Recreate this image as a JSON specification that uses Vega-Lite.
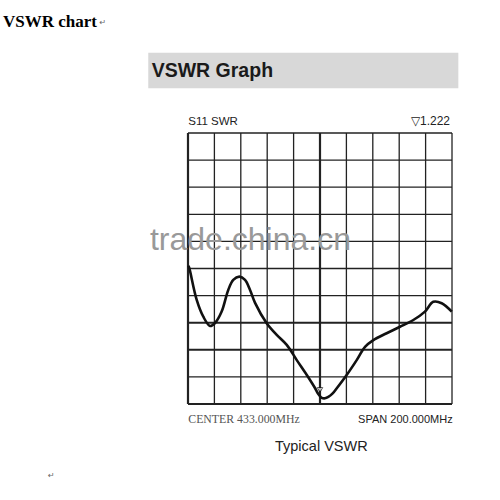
{
  "$schema": "https://vega.github.io/schema/vega-lite/v6.json",
  "width": 500,
  "height": 500,
  "padding": 0,
  "autosize": {"type": "fit", "contains": "padding"},
  "background": "white",
  "view": {"stroke": null},
  "datasets": {
    "curve": [
      {"f": 333.3, "s": 1.71},
      {"f": 334.0, "s": 1.701},
      {"f": 339.6, "s": 1.584},
      {"f": 344.6, "s": 1.522},
      {"f": 349.7, "s": 1.488},
      {"f": 353.5, "s": 1.499},
      {"f": 358.5, "s": 1.541},
      {"f": 363.5, "s": 1.621},
      {"f": 367.3, "s": 1.658},
      {"f": 371.9, "s": 1.670},
      {"f": 376.2, "s": 1.658},
      {"f": 380.0, "s": 1.621},
      {"f": 383.8, "s": 1.573},
      {"f": 392.6, "s": 1.498},
      {"f": 400.2, "s": 1.455},
      {"f": 407.8, "s": 1.418},
      {"f": 415.4, "s": 1.362},
      {"f": 423.0, "s": 1.307},
      {"f": 429.2, "s": 1.259},
      {"f": 431.7, "s": 1.237},
      {"f": 434.3, "s": 1.223},
      {"f": 436.8, "s": 1.221},
      {"f": 439.3, "s": 1.226},
      {"f": 442.6, "s": 1.239},
      {"f": 445.7, "s": 1.258},
      {"f": 453.2, "s": 1.307},
      {"f": 460.8, "s": 1.362},
      {"f": 467.1, "s": 1.411},
      {"f": 473.4, "s": 1.436},
      {"f": 483.5, "s": 1.461},
      {"f": 493.6, "s": 1.485},
      {"f": 503.7, "s": 1.510},
      {"f": 512.5, "s": 1.541},
      {"f": 518.8, "s": 1.577},
      {"f": 525.2, "s": 1.572},
      {"f": 532.8, "s": 1.541}
    ],
    "vgrid": [
      {"f": 333, "s": 1.2, "s2": 2.2, "major": true},
      {"f": 353, "s": 1.2, "s2": 2.2, "major": false},
      {"f": 373, "s": 1.2, "s2": 2.2, "major": false},
      {"f": 393, "s": 1.2, "s2": 2.2, "major": false},
      {"f": 413, "s": 1.2, "s2": 2.2, "major": false},
      {"f": 433, "s": 1.2, "s2": 2.2, "major": true},
      {"f": 453, "s": 1.2, "s2": 2.2, "major": false},
      {"f": 473, "s": 1.2, "s2": 2.2, "major": false},
      {"f": 493, "s": 1.2, "s2": 2.2, "major": false},
      {"f": 513, "s": 1.2, "s2": 2.2, "major": false},
      {"f": 533, "s": 1.2, "s2": 2.2, "major": false}
    ],
    "hgrid": [
      {"s": 1.2, "f": 333, "f2": 533, "major": true},
      {"s": 1.3, "f": 333, "f2": 533, "major": false},
      {"s": 1.4, "f": 333, "f2": 533, "major": true},
      {"s": 1.5, "f": 333, "f2": 533, "major": true},
      {"s": 1.6, "f": 333, "f2": 533, "major": false},
      {"s": 1.7, "f": 333, "f2": 533, "major": false},
      {"s": 1.8, "f": 333, "f2": 533, "major": false},
      {"s": 1.9, "f": 333, "f2": 533, "major": false},
      {"s": 2.0, "f": 333, "f2": 533, "major": false},
      {"s": 2.1, "f": 333, "f2": 533, "major": false},
      {"s": 2.2, "f": 333, "f2": 533, "major": false}
    ],
    "banner": [
      {"f": 302.9, "f2": 537.8, "s": 2.496, "s2": 2.365}
    ],
    "marker": [
      {"f": 433.0, "s": 1.252}
    ],
    "labels": [
      {"role": "doc", "f": 192.9, "s": 2.591, "text": "VSWR chart"},
      {"role": "ret", "f": 266.0, "s": 2.600, "text": "↵"},
      {"role": "ret", "f": 226.9, "s": 0.927, "text": "↵"},
      {"role": "banner", "f": 305.5, "s": 2.4055, "text": "VSWR Graph"},
      {"role": "head", "f": 333.2, "s": 2.2295, "text": "S11 SWR"},
      {"role": "headr", "f": 531.5, "s": 2.2295, "text": "▽1.222"},
      {"role": "center", "f": 333.2, "s": 1.1288, "text": "CENTER 433.000MHz"},
      {"role": "span", "f": 533.5, "s": 1.1288, "text": "SPAN 200.000MHz"},
      {"role": "caption", "f": 434.0, "s": 1.0277, "text": "Typical VSWR"},
      {"role": "wm", "f": 304.2, "s": 1.7683, "text": "trade.china.cn"}
    ]
  },
  "encoding": {
    "x": {"field": "f", "type": "quantitative", "axis": null,
          "scale": {"domain": [190.58, 569.36], "nice": false, "zero": false}},
    "y": {"field": "s", "type": "quantitative", "axis": null,
          "scale": {"domain": [0.8458, 2.6908], "nice": false, "zero": false}}
  },
  "layer": [
    {
      "data": {"name": "banner"},
      "mark": {"type": "rect", "fill": "#d8d8d8"},
      "encoding": {"x2": {"field": "f2"}, "y2": {"field": "s2"}}
    },
    {
      "data": {"name": "vgrid"},
      "mark": {"type": "rule", "stroke": "#222222"},
      "encoding": {
        "y2": {"field": "s2"},
        "strokeWidth": {"condition": {"test": "datum.major", "value": 2.2}, "value": 1.3}
      }
    },
    {
      "data": {"name": "hgrid"},
      "mark": {"type": "rule", "stroke": "#222222"},
      "encoding": {
        "x2": {"field": "f2"},
        "strokeWidth": {"condition": {"test": "datum.major", "value": 2.0}, "value": 1.3}
      }
    },
    {
      "data": {"name": "labels"},
      "transform": [{"filter": "datum.role == 'wm'"}],
      "mark": {"type": "text", "align": "left", "baseline": "alphabetic", "font": "Liberation Sans", "fontSize": 32, "color": "#999999"},
      "encoding": {"text": {"field": "text"}}
    },
    {
      "data": {"name": "curve"},
      "mark": {"type": "line", "color": "#111111", "strokeWidth": 2.6, "interpolate": "catmull-rom"},
      "encoding": {}
    },
    {
      "data": {"name": "marker"},
      "mark": {"type": "point", "shape": "triangle-down", "size": 30, "stroke": "#111111", "strokeWidth": 1, "fill": "white", "filled": true},
      "encoding": {}
    },
    {
      "data": {"name": "labels"},
      "transform": [{"filter": "datum.role == 'doc'"}],
      "mark": {"type": "text", "align": "left", "baseline": "alphabetic", "font": "Liberation Serif", "fontWeight": "bold", "fontSize": 17, "color": "#000000"},
      "encoding": {"text": {"field": "text"}}
    },
    {
      "data": {"name": "labels"},
      "transform": [{"filter": "datum.role == 'ret'"}],
      "mark": {"type": "text", "align": "left", "baseline": "alphabetic", "font": "DejaVu Sans", "fontSize": 8, "color": "#666666"},
      "encoding": {"text": {"field": "text"}}
    },
    {
      "data": {"name": "labels"},
      "transform": [{"filter": "datum.role == 'banner'"}],
      "mark": {"type": "text", "align": "left", "baseline": "alphabetic", "font": "Liberation Sans", "fontWeight": "bold", "fontSize": 19.5, "color": "#1a1a1a"},
      "encoding": {"text": {"field": "text"}}
    },
    {
      "data": {"name": "labels"},
      "transform": [{"filter": "datum.role == 'head'"}],
      "mark": {"type": "text", "align": "left", "baseline": "alphabetic", "font": "Liberation Sans", "fontSize": 11.5, "color": "#222222"},
      "encoding": {"text": {"field": "text"}}
    },
    {
      "data": {"name": "labels"},
      "transform": [{"filter": "datum.role == 'headr'"}],
      "mark": {"type": "text", "align": "right", "baseline": "alphabetic", "font": "Liberation Sans", "fontSize": 12, "color": "#222222"},
      "encoding": {"text": {"field": "text"}}
    },
    {
      "data": {"name": "labels"},
      "transform": [{"filter": "datum.role == 'center'"}],
      "mark": {"type": "text", "align": "left", "baseline": "alphabetic", "font": "Liberation Serif", "fontSize": 11.8, "color": "#555555"},
      "encoding": {"text": {"field": "text"}}
    },
    {
      "data": {"name": "labels"},
      "transform": [{"filter": "datum.role == 'span'"}],
      "mark": {"type": "text", "align": "right", "baseline": "alphabetic", "font": "Liberation Sans", "fontSize": 11, "color": "#222222"},
      "encoding": {"text": {"field": "text"}}
    },
    {
      "data": {"name": "labels"},
      "transform": [{"filter": "datum.role == 'caption'"}],
      "mark": {"type": "text", "align": "center", "baseline": "alphabetic", "font": "Liberation Sans", "fontSize": 14.5, "color": "#222222"},
      "encoding": {"text": {"field": "text"}}
    }
  ]
}
